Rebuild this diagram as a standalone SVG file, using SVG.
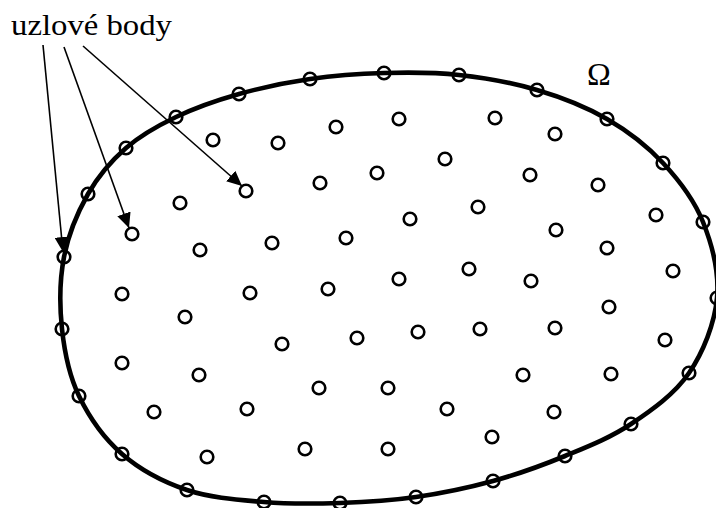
<svg xmlns="http://www.w3.org/2000/svg" width="716" height="508" viewBox="0 0 716 508">
<style>
.n{fill:none;stroke:#000;stroke-width:2.6}
.b{fill:none;stroke:#000;stroke-width:4.6}
.c{fill:none;stroke:#000;stroke-width:1.6}
.t{font-family:"Liberation Serif","DejaVu Serif",serif;fill:#000}
</style>
<defs>
<marker id="ah" markerUnits="userSpaceOnUse" markerWidth="16" markerHeight="14" viewBox="0 0 16 14" refX="15" refY="7" orient="auto">
<path d="M0,0 L15,7 L0,14 z" fill="#000"/>
</marker>
</defs>
<rect width="716" height="508" fill="#fff"/>
<g id="domain">
<path class="b" d="M384,73 C408.8,72.3 433.5,72.2 459,75 C484.5,77.8 512.3,82.7 537,90 C561.7,97.3 586,106.8 607,119 C628,131.2 647,145.8 663,163 C679,180.2 694,199.5 703,222 C712,244.5 719.3,272.8 717,298 C714.7,323.2 703.3,352 689,373 C674.7,394 651.7,410.2 631,424 C610.3,437.8 588,446.5 565,456 C542,465.5 517.8,474.2 493,481 C468.2,487.8 441.5,493.3 416,497 C390.5,500.7 365.3,502.2 340,503 C314.7,503.8 289.5,504.2 264,502 C238.5,499.8 210.7,498 187,490 C163.3,482 140,469.7 122,454 C104,438.3 89,416.8 79,396 C69,375.2 64.5,352.2 62,329 C59.5,305.8 59.7,279.5 64,257 C68.3,234.5 77.7,212.2 88,194 C98.3,175.8 111.3,160.8 126,148 C140.7,135.2 157.2,126 176,117 C194.8,108 216.7,100.3 239,94 C261.3,87.7 285.8,82.5 310,79 C334.2,75.5 359.2,73.7 384,73 Z"/>
<text class="t" x="599" y="85" font-size="32" text-anchor="middle">Ω</text>
</g>
<g id="boundary-nodes" class="n">
<circle cx="384" cy="73" r="6.3"/><circle cx="459" cy="75" r="6.3"/><circle cx="537" cy="90" r="6.3"/><circle cx="607" cy="119" r="6.3"/><circle cx="663" cy="163" r="6.3"/><circle cx="703" cy="222" r="6.3"/><circle cx="717" cy="298" r="6.3"/><circle cx="689" cy="373" r="6.3"/><circle cx="631" cy="424" r="6.3"/><circle cx="565" cy="456" r="6.3"/><circle cx="493" cy="481" r="6.3"/><circle cx="416" cy="497" r="6.3"/><circle cx="340" cy="503" r="6.3"/><circle cx="264" cy="502" r="6.3"/><circle cx="187" cy="490" r="6.3"/><circle cx="122" cy="454" r="6.3"/><circle cx="79" cy="396" r="6.3"/><circle cx="62" cy="329" r="6.3"/><circle cx="64" cy="257" r="6.3"/><circle cx="88" cy="194" r="6.3"/><circle cx="126" cy="148" r="6.3"/><circle cx="176" cy="117" r="6.3"/><circle cx="239" cy="94" r="6.3"/><circle cx="310" cy="79" r="6.3"/>
</g>
<g id="interior-nodes" class="n">
<circle cx="213" cy="140" r="6.3"/><circle cx="278" cy="143" r="6.3"/><circle cx="336" cy="127" r="6.3"/><circle cx="399" cy="119" r="6.3"/><circle cx="495" cy="118" r="6.3"/><circle cx="555" cy="134" r="6.3"/><circle cx="445" cy="159" r="6.3"/><circle cx="377" cy="173" r="6.3"/><circle cx="320" cy="183" r="6.3"/><circle cx="246" cy="191" r="6.3"/><circle cx="180" cy="203" r="6.3"/><circle cx="132" cy="234" r="6.3"/><circle cx="530" cy="175" r="6.3"/><circle cx="598" cy="185" r="6.3"/><circle cx="656" cy="215" r="6.3"/><circle cx="478" cy="207" r="6.3"/><circle cx="410" cy="219" r="6.3"/><circle cx="556" cy="230" r="6.3"/><circle cx="200" cy="250" r="6.3"/><circle cx="272" cy="243" r="6.3"/><circle cx="346" cy="238" r="6.3"/><circle cx="607" cy="248" r="6.3"/><circle cx="673" cy="271" r="6.3"/><circle cx="469" cy="269" r="6.3"/><circle cx="531" cy="281" r="6.3"/><circle cx="399" cy="279" r="6.3"/><circle cx="328" cy="289" r="6.3"/><circle cx="250" cy="293" r="6.3"/><circle cx="122" cy="294" r="6.3"/><circle cx="185" cy="317" r="6.3"/><circle cx="609" cy="307" r="6.3"/><circle cx="418" cy="332" r="6.3"/><circle cx="357" cy="338" r="6.3"/><circle cx="282" cy="344" r="6.3"/><circle cx="480" cy="329" r="6.3"/><circle cx="555" cy="328" r="6.3"/><circle cx="665" cy="340" r="6.3"/><circle cx="122" cy="363" r="6.3"/><circle cx="199" cy="375" r="6.3"/><circle cx="319" cy="388" r="6.3"/><circle cx="388" cy="388" r="6.3"/><circle cx="523" cy="375" r="6.3"/><circle cx="611" cy="374" r="6.3"/><circle cx="154" cy="412" r="6.3"/><circle cx="247" cy="409" r="6.3"/><circle cx="447" cy="409" r="6.3"/><circle cx="554" cy="412" r="6.3"/><circle cx="207" cy="457" r="6.3"/><circle cx="305" cy="449" r="6.3"/><circle cx="388" cy="449" r="6.3"/><circle cx="492" cy="437" r="6.3"/>
</g>
<g id="label">
<text class="t" x="11" y="35" font-size="29" textLength="161" lengthAdjust="spacingAndGlyphs">uzlové body</text>
</g>
<g id="connectors" class="c">
<line x1="43" y1="45" x2="63" y2="252" marker-end="url(#ah)"/>
<line x1="64" y1="47" x2="129" y2="228" marker-end="url(#ah)"/>
<line x1="83" y1="46" x2="242" y2="186" marker-end="url(#ah)"/>
</g>
</svg>
